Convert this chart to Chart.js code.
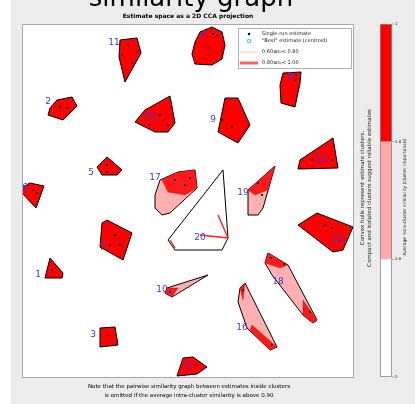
<!DOCTYPE html>
<html><head><meta charset="utf-8">
<script src="https://cdn.jsdelivr.net/npm/chart.js@4.4.0/dist/chart.umd.min.js"></script>
<style>html,body{margin:0;padding:0;background:#fff}#c{display:block}</style>
</head><body>
<canvas id="c" width="415" height="404"></canvas>
<script>
// ---- data (2D CCA projection units) ----
const clusterLabels = ['11','4','2','13','8','9','5','12','6','17','19','20','7','1','15','10','18','16','3','0'];
// 'high' = avg similarity >= 0.8 (red), 'mid' = 0.6-0.8 (pink), 'low' = < 0.6 (white)
const clusterLevel = ['high','high','high','high','high','high','high','high','high','mid','mid','low','high','high','high','mid','mid','mid','high','high'];
const hulls = [
  [[98,338],[115,340],[119,325],[103,296],[97,321]],
  [[173,336],[178,346],[190,351],[200,346],[203,333],[200,319],[190,313],[173,314],[170,324]],
  [[26,263],[28,270],[35,278],[50,281],[55,272],[41,258]],
  [[113,256],[123,268],[148,282],[153,255],[146,246],[133,246]],
  [[261,305],[279,306],[278,295],[273,271],[259,275],[258,293]],
  [[203,280],[216,280],[228,253],[216,235],[196,246]],
  [[75,211],[85,221],[100,208],[95,203],[80,203]],
  [[278,218],[311,240],[316,210],[276,209]],
  [[1,191],[8,195],[22,192],[14,170],[0,185]],
  [[133,183],[138,198],[156,206],[173,208],[175,190],[148,165],[140,163],[133,170]],
  [[226,188],[253,212],[241,170],[236,163],[226,163]],
  [[201,208],[206,140],[200,128],[153,128],[146,138]],
  [[80,155],[85,158],[110,145],[101,118],[78,131]],
  [[28,120],[41,105],[40,100],[23,100]],
  [[276,153],[295,165],[331,151],[321,128],[311,126]],
  [[143,85],[145,90],[186,103],[150,81]],
  [[243,115],[246,125],[266,113],[295,58],[291,55],[281,63],[250,103]],
  [[216,76],[218,90],[223,95],[255,31],[248,28],[225,50]],
  [[78,50],[93,51],[96,33],[78,31]],
  [[155,2],[161,20],[171,21],[185,11],[175,4]]
];
// dense strong-similarity (>=0.80) sub-regions inside the pink clusters
const strongRegions = [
  [[140,198],[156,206],[173,208],[175,190],[163,183],[146,186]],
  [[226,188],[253,212],[246,188],[233,183]],
  [[143,85],[145,90],[156,90],[150,81]],
  [[243,115],[246,125],[266,113],[258,110]],
  [[281,78],[295,58],[291,55],[281,63]],
  [[218,90],[223,95],[221,78]],
  [[230,53],[255,31],[248,28],[228,48]]
];
// strong edges in the low-similarity cluster 20
const strongEdges = [
  [[196,163],[206,140]],
  [[178,143],[206,140]],
  [[148,138],[153,130]]
];
const labelPos = [
  [92,335],[181,343],[26,276],[128,261],[268,301],[191,258],[69,205],[300,218],[3,190],
  [133,200],[221,185],[178,140],[80,130],[16,103],[316,138],[140,88],[256,96],[220,50],[71,43],[166,11]
];
const estimates = [
  [106,333],[115,326],[110,315],[100,323],
  [191,344],[195,343],[186,330],
  [38,271],[45,270],
  [138,263],[146,253],[128,253],
  [274,303],[273,298],
  [200,258],[210,251],
  [85,213],[85,206],
  [290,218],[310,218],
  [11,188],[15,185],
  [153,198],[163,193],[168,200],
  [236,195],[240,183],
  [93,143],[98,133],[88,133],
  [30,108],
  [303,153],[310,150],
  [148,86],
  [249,120],[262,114],[288,66],
  [221,88],[250,33],
  [86,43],
  [173,13]
];
const colorbarTicks = ['0','0.6','0.8','1'];

// ---- datasets built from the arrays ----
const toPts = a => a.map(p => ({x:p[0], y:p[1]}));
const closed = a => toPts(a.concat([a[0]]));
const fillFor = {high:'#ff0000', mid:'#ffb0b0', low:'rgba(255,255,255,0)'};
const datasets = [];
datasets.push({type:'scatter', data: toPts(estimates), pointRadius:1.1, pointBackgroundColor:'#000', pointBorderWidth:0, order:0});
strongEdges.forEach(e => datasets.push({type:'line', data: toPts(e), borderColor:'#ff2020', borderWidth:1.4, pointRadius:0, fill:false, tension:0, order:1}));
strongRegions.forEach(r => datasets.push({type:'line', data: closed(r), borderColor:'rgba(200,0,0,0.6)', borderWidth:0.6, backgroundColor:'#ff1a1a', pointRadius:0, fill:'shape', tension:0, order:2}));
hulls.forEach((h,i) => datasets.push({type:'line', data: closed(h), borderColor:'#000', borderWidth:1, backgroundColor: fillFor[clusterLevel[i]], pointRadius:0, fill: clusterLevel[i]==='low' ? false : 'shape', tension:0, order:3}));

const decor = {
  id:'decor',
  beforeDraw(chart){
    const c = chart.ctx, a = chart.chartArea;
    c.save();
    c.fillStyle = '#fff'; c.fillRect(0,0,415,404);
    c.fillStyle = '#ececec'; c.fillRect(11,0,404,404);
    c.fillStyle = '#fff'; c.fillRect(a.left,a.top,a.right-a.left,a.bottom-a.top);
    c.restore();
  },
  afterDraw(chart){
    const c = chart.ctx, a = chart.chartArea, xs = chart.scales.x, ys = chart.scales.y;
    c.save();
    // frame
    c.strokeStyle = '#a8a8a8'; c.lineWidth = 1;
    c.strokeRect(a.left+0.5, a.top+0.5, a.right-a.left-1, a.bottom-a.top-1);
    // cluster labels
    c.fillStyle = '#3a3ae0'; c.font = '9px "DejaVu Sans"'; c.textAlign='center'; c.textBaseline='middle';
    clusterLabels.forEach((t,i) => c.fillText(t, xs.getPixelForValue(labelPos[i][0]), ys.getPixelForValue(labelPos[i][1])));
    // titles
    c.fillStyle = '#000'; c.textBaseline = 'alphabetic';
    c.font = '26px "DejaVu Sans"'; c.fillText('similarity graph', 191, 6);
    c.font = 'bold 6px "DejaVu Sans"'; c.fillText('Estimate space as a 2D CCA projection', 188, 18);
    c.font = '5.5px "DejaVu Sans"';
    c.fillText('Note that the pairwise similarity graph between estimates inside clusters', 189, 388);
    c.fillText('is omitted if the average intra-cluster similarity is above 0.90', 189, 397);
    // legend
    c.fillStyle = '#fff'; c.fillRect(238,28,114,41);
    c.strokeStyle = '#b0b0b0'; c.strokeRect(238.5,28.5,113,40);
    c.fillStyle = '#000'; c.beginPath(); c.arc(249,34,1.2,0,Math.PI*2); c.fill();
    c.strokeStyle = '#30e0ff'; c.lineWidth = 1.2; c.beginPath(); c.arc(249,41,1.6,0,Math.PI*2); c.stroke();
    c.strokeStyle = '#ffb0b0'; c.lineWidth = 0.8; c.beginPath(); c.moveTo(240,52); c.lineTo(258,52); c.stroke();
    c.strokeStyle = '#ff6060'; c.lineWidth = 3; c.beginPath(); c.moveTo(240,63); c.lineTo(258,63); c.stroke();
    c.fillStyle = '#222'; c.textAlign = 'left'; c.textBaseline = 'middle'; c.font = '5px "DejaVu Sans"';
    c.fillText('Single-run estimate', 262, 34);
    c.fillText('"Best" estimate (centroid)', 262, 41);
    c.fillText('0.60\u2264s\u1d62\u2c7c< 0.80', 262, 52);
    c.fillText('0.80\u2264s\u1d62\u2c7c< 1.00', 262, 63);
    // rotated notes
    c.textAlign = 'center'; c.textBaseline = 'alphabetic';
    c.translate(364, 188); c.rotate(-Math.PI/2);
    c.font = '5.5px "DejaVu Sans"'; c.fillStyle = '#222';
    c.fillText('Convex hulls represent estimate clusters.', 0, 0);
    c.fillText('Compact and isolated clusters suggest reliable estimates', 0, 7);
    c.setTransform(1,0,0,1,0,0);
    c.translate(406, 197); c.rotate(-Math.PI/2);
    c.font = '4.5px "DejaVu Sans"';
    c.fillText('Average intra-cluster similarity (cluster importance)', 0, 0);
    c.setTransform(1,0,0,1,0,0);
    // colorbar
    const cx = 380, cw = 12, top = 24, bot = 377, seg = (bot-top)/3;
    c.fillStyle = '#ff0000'; c.fillRect(cx, top, cw, seg);
    c.fillStyle = '#ffaaaa'; c.fillRect(cx, top+seg, cw, seg);
    c.fillStyle = '#ffffff'; c.fillRect(cx, top+2*seg, cw, seg);
    c.strokeStyle = '#888'; c.lineWidth = 0.8; c.strokeRect(cx+0.5, top+0.5, cw-1, bot-top-1);
    c.fillStyle = '#333'; c.font = '4px "DejaVu Sans"'; c.textAlign = 'left'; c.textBaseline = 'middle';
    const tickY = [bot, top+2*seg, top+seg, top];
    colorbarTicks.forEach((t,i) => {
      c.beginPath(); c.moveTo(cx+cw, tickY[i]); c.lineTo(cx+cw+2, tickY[i]); c.stroke();
      c.fillText(t, cx+cw+3, tickY[i]);
    });
    c.restore();
  }
};

new Chart(document.getElementById('c'), {
  type:'scatter',
  data:{datasets},
  options:{
    responsive:false, animation:false, devicePixelRatio:1,
    layout:{padding:{left:22, top:24, right:61, bottom:26}},
    scales:{
      x:{type:'linear', min:0, max:332, display:false},
      y:{type:'linear', min:0, max:354, display:false}
    },
    plugins:{legend:{display:false}, tooltip:{enabled:false}, title:{display:false}}
  },
  plugins:[decor]
});
</script>
</body></html>
